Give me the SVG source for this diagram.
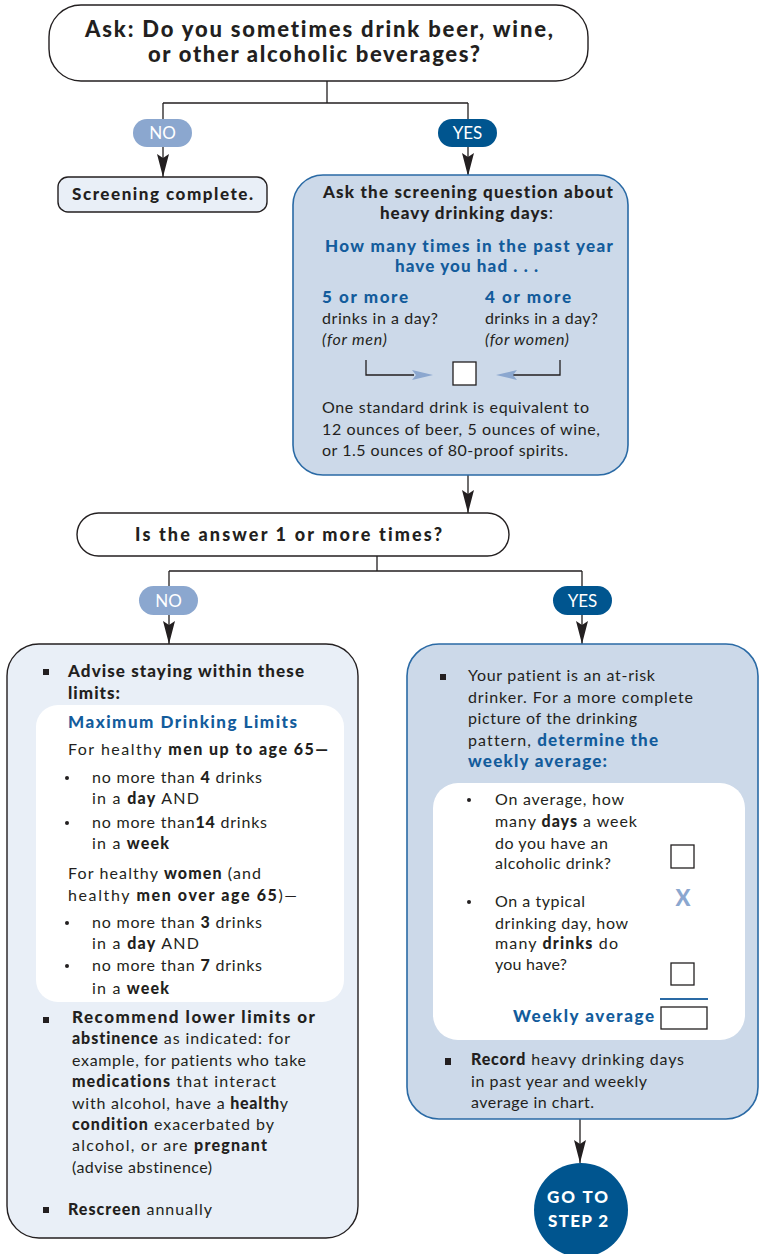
<svg xmlns="http://www.w3.org/2000/svg" width="761" height="1254" viewBox="0 0 761 1254">
<defs>
<style>
.t{font-family:Lato,"Open Sans","Liberation Sans",sans-serif;font-size:16px;fill:#231f20;font-variant-ligatures:none}
.b{font-weight:900}
.bl{fill:#135c9c}
.c{text-anchor:middle}
.w{fill:#ffffff}
.it{font-style:italic}
.ln{stroke:#231f20;stroke-width:1.3;fill:none}
.box{stroke:#231f20;stroke-width:1.4}
.bbox{fill:#ccd9e9;stroke:#2a6aa5;stroke-width:1.6}
.lbox{fill:#e9eff7;stroke:#231f20;stroke-width:1.4}
.sq{fill:#231f20}
.ck{fill:#ffffff;stroke:#231f20;stroke-width:1.3}
</style>
<marker id="ah" markerUnits="userSpaceOnUse" markerWidth="23" markerHeight="12" refX="23" refY="6" orient="auto" viewBox="0 0 23 12">
<path d="M0,0 L23,6 L0,12 L4,6 z" fill="#231f20"/>
</marker>
</defs>

<g id="connectors">
<path class="ln" d="M327,81 V103 M163,103 H468"/>
<line class="ln" x1="163" y1="103" x2="163" y2="177" marker-end="url(#ah)"/>
<line class="ln" x1="468" y1="103" x2="468" y2="176" marker-end="url(#ah)"/>
<line class="ln" x1="468" y1="475" x2="468" y2="513" marker-end="url(#ah)"/>
<path class="ln" d="M377,556 V571 M169,571 H582"/>
<line class="ln" x1="169" y1="571" x2="169" y2="644" marker-end="url(#ah)"/>
<line class="ln" x1="582" y1="571" x2="582" y2="644" marker-end="url(#ah)"/>
<line class="ln" x1="580" y1="1119" x2="580" y2="1163" marker-end="url(#ah)"/>
</g>

<g id="pills">
<rect x="133" y="119" width="59" height="28" rx="14" fill="#8ba7cf"/>
<text class="t w c" x="162.5" y="139" style="font-size:17px">NO</text>
<rect x="438" y="119" width="59" height="28" rx="14" fill="#00558f"/>
<text class="t w c" x="467.5" y="139" style="font-size:17px">YES</text>
<rect x="139" y="586" width="59" height="29" rx="14.5" fill="#8ba7cf"/>
<text class="t w c" x="168.5" y="607" style="font-size:17px">NO</text>
<rect x="553" y="586" width="59" height="29" rx="14.5" fill="#00558f"/>
<text class="t w c" x="582.5" y="607" style="font-size:17px">YES</text>
</g>

<g id="ask">
<rect class="box" x="49" y="5" width="539" height="76" rx="32" fill="#ffffff"/>
<text class="t b" x="85" y="37" textLength="468" lengthAdjust="spacing" style="font-size:22px">Ask: Do you sometimes drink beer, wine,</text>
<text class="t b" x="148" y="62" textLength="332" lengthAdjust="spacing" style="font-size:22px">or other alcoholic beverages?</text>
</g>

<g id="screening-complete">
<rect class="box" x="58" y="177" width="209" height="35" rx="10" fill="#e9eff7"/>
<text class="t b" x="72" y="200" textLength="181" lengthAdjust="spacing" style="font-size:17px">Screening complete.</text>
</g>

<g id="screening-question">
<rect class="bbox" x="293" y="175" width="335" height="300" rx="30"/>
<text class="t b" x="323" y="198" textLength="290" lengthAdjust="spacing" style="font-size:17px">Ask the screening question about</text>
<text class="t b" x="380" y="219" textLength="173" lengthAdjust="spacing" style="font-size:17px">heavy drinking days<tspan font-weight="normal">:</tspan></text>
<text class="t b bl" x="325" y="252" textLength="288" lengthAdjust="spacing" style="font-size:17px">How many times in the past year</text>
<text class="t b bl" x="395" y="272" textLength="143" lengthAdjust="spacing" style="font-size:17px">have you had . . .</text>
<text class="t b bl" x="322" y="303" textLength="86" lengthAdjust="spacing" style="font-size:17px">5 or more</text>
<text class="t" x="322" y="324" textLength="116" lengthAdjust="spacing">drinks in a day?</text>
<text class="t it" x="322" y="345" textLength="65" lengthAdjust="spacing">(for men)</text>
<text class="t b bl" x="485" y="303" textLength="86" lengthAdjust="spacing" style="font-size:17px">4 or more</text>
<text class="t" x="485" y="324" textLength="113" lengthAdjust="spacing">drinks in a day?</text>
<text class="t it" x="485" y="345" textLength="84" lengthAdjust="spacing">(for women)</text>
<path class="ln" d="M366,360 V375 H414 M560,360 V375 H512"/>
<path d="M412,370 L433,375 L412,380 L416,375 z" fill="#8ba7cf"/>
<path d="M517,370 L496,375 L517,380 L513,375 z" fill="#8ba7cf"/>
<rect class="ck" x="453" y="362" width="23" height="23"/>
<text class="t" x="322" y="413" textLength="267" lengthAdjust="spacing">One standard drink is equivalent to</text>
<text class="t" x="322" y="435" textLength="278" lengthAdjust="spacing">12 ounces of beer, 5 ounces of wine,</text>
<text class="t" x="322" y="456" textLength="246" lengthAdjust="spacing">or 1.5 ounces of 80-proof spirits.</text>
</g>

<g id="answer">
<rect class="box" x="77" y="513" width="432" height="43" rx="21.5" fill="#ffffff"/>
<text class="t b" x="135" y="541" textLength="307" lengthAdjust="spacing" style="font-size:18px">Is the answer 1 or more times?</text>
</g>

<g id="advise">
<rect class="lbox" x="7" y="644" width="351" height="594" rx="32"/>
<rect x="36" y="705" width="308" height="297" rx="22" fill="#ffffff"/>
<rect class="sq" x="43" y="669" width="6" height="6"/>
<text class="t b" x="68" y="677" textLength="236" lengthAdjust="spacing" style="font-size:17px">Advise staying within these</text>
<text class="t b" x="68" y="699" textLength="52" lengthAdjust="spacing" style="font-size:17px">limits:</text>
<text class="t b bl" x="68" y="728" textLength="229" lengthAdjust="spacing" style="font-size:17px">Maximum Drinking Limits</text>
<text class="t" x="68" y="755" textLength="260" lengthAdjust="spacing">For healthy <tspan class="b">men up to age 65—</tspan></text>
<circle cx="67" cy="778" r="2" fill="#231f20"/>
<text class="t" x="92" y="783" textLength="170" lengthAdjust="spacing">no more than <tspan class="b">4</tspan> drinks</text>
<text class="t" x="92" y="804" textLength="107" lengthAdjust="spacing">in a <tspan class="b">day</tspan> AND</text>
<circle cx="67" cy="823" r="2" fill="#231f20"/>
<text class="t" x="92" y="828" textLength="175" lengthAdjust="spacing">no more than<tspan class="b">14</tspan> drinks</text>
<text class="t" x="92" y="849" textLength="77" lengthAdjust="spacing">in a <tspan class="b">week</tspan></text>
<text class="t" x="68" y="879" textLength="193" lengthAdjust="spacing">For healthy <tspan class="b">women</tspan> (and</text>
<text class="t" x="68" y="901" textLength="229" lengthAdjust="spacing">healthy <tspan class="b">men over age 65</tspan>)—</text>
<circle cx="67" cy="923" r="2" fill="#231f20"/>
<text class="t" x="92" y="928" textLength="170" lengthAdjust="spacing">no more than <tspan class="b">3</tspan> drinks</text>
<text class="t" x="92" y="949" textLength="107" lengthAdjust="spacing">in a <tspan class="b">day</tspan> AND</text>
<circle cx="67" cy="966" r="2" fill="#231f20"/>
<text class="t" x="92" y="971" textLength="170" lengthAdjust="spacing">no more than <tspan class="b">7</tspan> drinks</text>
<text class="t" x="92" y="994" textLength="77" lengthAdjust="spacing">in a <tspan class="b">week</tspan></text>
<rect class="sq" x="43" y="1017" width="6" height="6"/>
<text class="t b" x="72" y="1023" textLength="243" lengthAdjust="spacing" style="font-size:17px">Recommend lower limits or</text>
<text class="t" x="72" y="1044" textLength="218" lengthAdjust="spacing"><tspan class="b">abstinence</tspan> as indicated: for</text>
<text class="t" x="72" y="1066" textLength="234" lengthAdjust="spacing">example, for patients who take</text>
<text class="t" x="72" y="1087" textLength="204" lengthAdjust="spacing"><tspan class="b">medications</tspan> that interact</text>
<text class="t" x="72" y="1109" textLength="216" lengthAdjust="spacing">with alcohol, have a <tspan class="b">health</tspan>y</text>
<text class="t" x="72" y="1130" textLength="202" lengthAdjust="spacing"><tspan class="b">condition</tspan> exacerbated by</text>
<text class="t" x="72" y="1151" textLength="195" lengthAdjust="spacing">alcohol, or are <tspan class="b">pregnant</tspan></text>
<text class="t" x="72" y="1173" textLength="140" lengthAdjust="spacing">(advise abstinence)</text>
<rect class="sq" x="43" y="1207" width="6" height="6"/>
<text class="t" x="68" y="1215" textLength="144" lengthAdjust="spacing"><tspan class="b">Rescreen</tspan> annually</text>
</g>

<g id="at-risk">
<rect class="bbox" x="407" y="644" width="351" height="475" rx="32"/>
<rect x="433" y="783" width="312" height="257" rx="25" fill="#ffffff"/>
<rect class="sq" x="440" y="674" width="6" height="6"/>
<text class="t" x="468" y="681" textLength="187" lengthAdjust="spacing">Your patient is an at-risk</text>
<text class="t" x="468" y="703" textLength="225" lengthAdjust="spacing">drinker. For a more complete</text>
<text class="t" x="468" y="724" textLength="169" lengthAdjust="spacing">picture of the drinking</text>
<text class="t" x="468" y="746" textLength="190" lengthAdjust="spacing">pattern, <tspan class="b bl" style="font-size:17px">determine the</tspan></text>
<text class="t b bl" x="468" y="767" textLength="139" lengthAdjust="spacing" style="font-size:17px">weekly average:</text>
<circle cx="469" cy="800" r="2" fill="#231f20"/>
<text class="t" x="495" y="805" textLength="129" lengthAdjust="spacing">On average, how</text>
<text class="t" x="495" y="827" textLength="142" lengthAdjust="spacing">many <tspan class="b">days</tspan> a week</text>
<text class="t" x="495" y="849" textLength="113" lengthAdjust="spacing">do you have an</text>
<text class="t" x="495" y="869" textLength="116" lengthAdjust="spacing">alcoholic drink?</text>
<rect class="ck" x="671" y="845" width="23" height="23"/>
<text class="t b c" x="683" y="906" style="font-size:22px;fill:#8ba7cf">X</text>
<circle cx="469" cy="902" r="2" fill="#231f20"/>
<text class="t" x="495" y="907" textLength="90" lengthAdjust="spacing">On a typical</text>
<text class="t" x="495" y="929" textLength="133" lengthAdjust="spacing">drinking day, how</text>
<text class="t" x="495" y="949" textLength="123" lengthAdjust="spacing">many <tspan class="b">drinks</tspan> do</text>
<text class="t" x="495" y="970" textLength="72" lengthAdjust="spacing">you have?</text>
<rect class="ck" x="671" y="963" width="23" height="22"/>
<line x1="660" y1="999" x2="708" y2="999" stroke="#2a6aa5" stroke-width="2"/>
<text class="t b bl" x="513" y="1022" textLength="141" lengthAdjust="spacing" style="font-size:17px">Weekly average</text>
<rect class="ck" x="661" y="1007" width="46" height="22"/>
<rect class="sq" x="445" y="1058" width="6" height="7"/>
<text class="t" x="471" y="1065" textLength="213" lengthAdjust="spacing"><tspan class="b">Record</tspan> heavy drinking days</text>
<text class="t" x="471" y="1087" textLength="176" lengthAdjust="spacing">in past year and weekly</text>
<text class="t" x="471" y="1108" textLength="123" lengthAdjust="spacing">average in chart.</text>
</g>

<g id="go-to-step-2">
<circle cx="581" cy="1210" r="47" fill="#00558f"/>
<text class="t b w" x="547" y="1203" textLength="61" lengthAdjust="spacing" style="font-size:17px">GO TO</text>
<text class="t b w" x="548" y="1227" textLength="60" lengthAdjust="spacing" style="font-size:17px">STEP 2</text>
</g>
</svg>
